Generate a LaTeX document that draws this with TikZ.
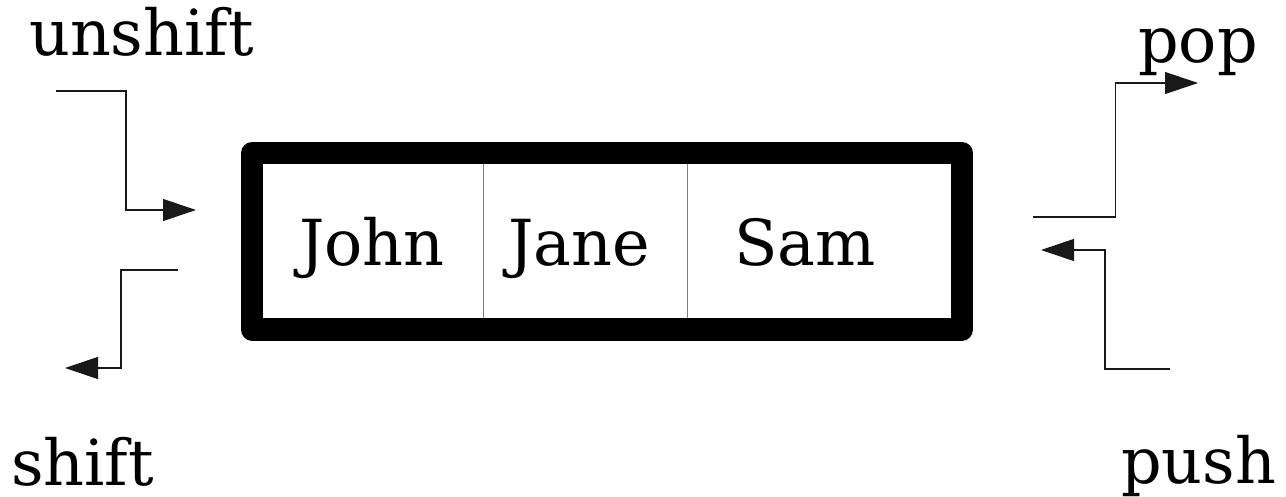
\documentclass[tikz,border=0pt]{standalone}
\usepackage{fontspec}
\setmainfont{DejaVu Serif}
\usetikzlibrary{arrows.meta}
\begin{document}
\begin{tikzpicture}[x=1pt,y=-1pt,
  lbl/.style={font=\fontsize{63.5}{63.5}\selectfont, inner sep=0pt, anchor=base west},
  person/.style={font=\fontsize{63.5}{63.5}\selectfont, inner sep=0pt, anchor=base west},
  cell/.style={minimum height=154pt, inner sep=0pt, anchor=north west},
  conn/.style={line width=1.1pt, draw=black!90, -{Triangle[length=33pt,width=22pt]}},
  divider/.style={line width=1pt, draw=black!50}]
\useasboundingbox (0,0) rectangle (1286,497);
% cells
\node[cell, minimum width=220pt] (c1) at (263,164) {};
\node[cell, minimum width=204pt] (c2) at (c1.north east) {};
\node[cell, minimum width=265pt] (c3) at (c2.north east) {};
\draw[divider] (c1.north east) -- (c1.south east);
\draw[divider] (c2.north east) -- (c2.south east);
% frame
\draw[line width=22pt, line join=round] (252,153) rectangle (962,329.5);
% names
\node[person] (john) at (299,266) {John};
\node[person] (jane) at (508,266) {Jane};
\node[person] (sam) at (734,266) {Sam};
% labels
\node[lbl] (unshift) at (29,56) {unshift};
\node[lbl] (pop) at (1138,63) {pop};
\node[lbl] (shift) at (11,485) {shift};
\node[lbl] (push) at (1121,483) {push};
% connectors
\coordinate (us0) at (56,91);
\coordinate (us1) at (196,210);
\draw[conn] (us0) -- (126,91) -- (126,210) -- (us1);
\coordinate (sh0) at (178,270);
\coordinate (sh1) at (65,368);
\draw[conn] (sh0) -- (121,270) -- (121,368) -- (sh1);
\coordinate (po0) at (1033,217);
\coordinate (po1) at (1198,83);
\draw[conn] (po0) -- (1115.5,217) -- (1115.5,83) -- (po1);
\coordinate (pu0) at (1170,369);
\coordinate (pu1) at (1041,250);
\draw[conn] (pu0) -- (1105,369) -- (1105,250) -- (pu1);
\end{tikzpicture}
\end{document}
